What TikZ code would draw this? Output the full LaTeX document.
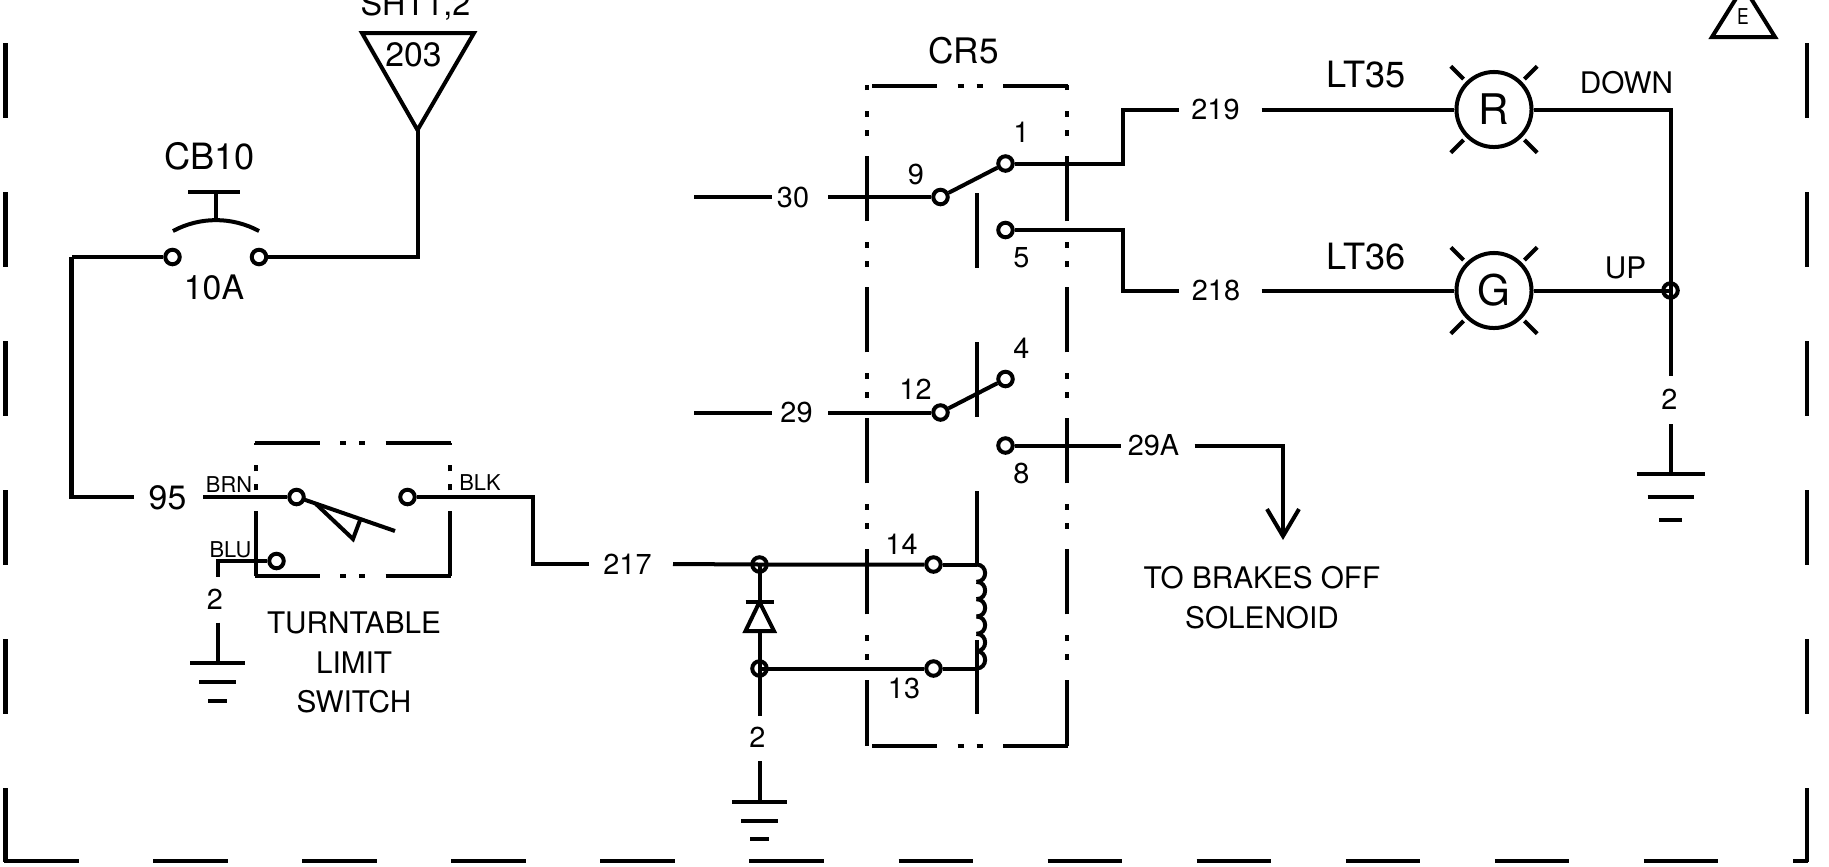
\documentclass[tikz,border=0pt]{standalone}
\usepackage{fontspec}
\setmainfont{TeX Gyre Heros}
\usetikzlibrary{arrows.meta}
\tikzset{
  wire/.style={line width=0.4mm},
  framedash/.style={wire, dash pattern=on 0.745cm off 0.745cm},
  linkdash/.style={wire, dash pattern=on 0.65cm off 0.205cm on 0.06cm off 0.13cm on 0.06cm off 0.205cm},
  term/.style={circle, draw, line width=0.4mm, minimum size=0.145cm, inner sep=0pt},
  lamp/.style={circle, draw, line width=0.4mm, minimum size=0.75cm, inner sep=0pt, font=\fontsize{12}{14}\selectfont},
  biglbl/.style={inner sep=0pt, font=\fontsize{10.3}{12}\selectfont},
  midlbl/.style={inner sep=0pt, font=\fontsize{9.6}{11}\selectfont},
  numlbl/.style={inner sep=0pt, font=\fontsize{8.2}{10}\selectfont},
  wordlbl/.style={inner sep=0pt, align=center, font=\fontsize{8.45}{11.2}\selectfont},
  tinylbl/.style={inner sep=0pt, font=\fontsize{6.2}{7}\selectfont},
}
\begin{document}
\begin{tikzpicture}[x=0.01cm, y=-0.01cm]
  \useasboundingbox (0,0) rectangle (1829,866);
  % outer frame
  \draw[framedash] (5.5,43) -- (5.5,861.5);
  \draw[framedash] (4,861) -- (1808,861);
  \draw[framedash] (1806.5,43) -- (1806.5,861.5);
  % sheet triangles
  \draw[wire] (362,33) -- (474,33) -- (417.5,130) -- cycle;
  \node[midlbl, font=\fontsize{9.2}{11}\selectfont] (sht) at (415.5,6) {SHT1,2};
  \node[midlbl] (n203) at (413.5,55) {203};
  \draw[wire] (1712,37) -- (1775,37) -- (1743.5,-13.5) -- cycle;
  \node[tinylbl, xscale=0.8] (rev) at (1743,17) {E};
  % breaker
  \coordinate (apex) at (417.5,130);
  \coordinate (cornerL) at (71.5,257);
  \node[term] (cbl) at (172.5,257) {};
  \node[term] (cbr) at (259,257) {};
  \node[biglbl] (cb10) at (209.5,156) {CB10};
  \node[midlbl] (amps) at (214,287) {10A};
  \draw[wire] (188,192) -- (240,192);
  \draw[wire] (215.5,192) -- (215.5,220);
  \draw[wire] (173,231) .. controls (200,216.5) and (232,216.5) .. (259,231);
  \draw[wire] (apex) |- (cbr);
  \draw[wire] (cbl) -- (cornerL);
  % limit switch
  \node[term] (swa) at (296.5,497) {};
  \node[term] (swb) at (407.5,497) {};
  \node[term] (swc) at (276.5,561) {};
  \coordinate (w95l) at (134,497);
  \coordinate (w95r) at (203,497);
  \node[midlbl] (n95) at (167.5,498) {95};
  \draw[wire] (cornerL) |- (w95l);
  \draw[wire] (w95r) -- (swa);
  \draw[wire] (304,499.5) -- (395,531);
  \draw[wire] (316,504) -- (353,539) -- (360.5,519);
  \draw[linkdash] (255.5,576) -- (255.5,443);
  \draw[linkdash] (449.5,576) -- (449.5,443);
  \draw[linkdash] (254.5,443) -- (451,443);
  \draw[linkdash] (254.5,576) -- (451,576);
  \node[tinylbl] (brn) at (229,485) {BRN};
  \node[tinylbl] (blu) at (230.5,550) {BLU};
  \node[tinylbl] (blk) at (480,483) {BLK};
  \node[wordlbl] (limit) at (354,662.5) {TURNTABLE\\LIMIT\\SWITCH};
  % ground of limit switch
  \coordinate (g1a) at (217.5,576.5);
  \coordinate (g1b) at (217.5,622.5);
  \coordinate (g1c) at (217.5,663);
  \node[numlbl] (n2a) at (215,599) {2};
  \draw[wire] (swc) -| (g1a);
  \draw[wire] (g1b) -- (g1c);
  \draw[wire] (g1c) +(-27.5,0) -- +(27.5,0) +(-18.5,19) -- +(18.5,19) +(-9.5,38) -- +(9.5,38);
  % wire 217
  \coordinate (w217l) at (589,564);
  \coordinate (w217r) at (673,564);
  \node[numlbl] (n217) at (627.5,564) {217};
  \draw[wire] (swb) -- (533,497) |- (w217l);
  % relay box
  \draw[linkdash] (866.5,745.5) -- (866.5,85);
  \draw[linkdash] (1067,745.5) -- (1067,85);
  \draw[linkdash] (872,85.5) -- (1068.5,85.5);
  \draw[linkdash] (872,745.5) -- (1068.5,745.5);
  \draw[framedash] (976.5,193) -- (976.5,714);
  \node[midlbl, font=\fontsize{10}{12}\selectfont] (cr5) at (963.5,51) {CR5};
  % upper contact
  \coordinate (w30a) at (694,197);
  \coordinate (w30b) at (772,197);
  \coordinate (w30c) at (828,197);
  \node[numlbl] (n30) at (793,197) {30};
  \node[term] (t9) at (940.5,197) {};
  \node[term] (t1) at (1005.5,163.5) {};
  \node[term] (t5) at (1005.5,230) {};
  \node[numlbl] (n9) at (916,174) {9};
  \node[numlbl] (n1) at (1021.5,132) {1};
  \node[numlbl] (n5) at (1021.5,258) {5};
  \draw[wire] (w30a) -- (w30b);
  \draw[wire] (w30c) -- (t9);
  \draw[wire] (t9) -- (t1);
  % lower contact
  \coordinate (w29a) at (694,412.5);
  \coordinate (w29b) at (772,412.5);
  \coordinate (w29c) at (828,412.5);
  \node[numlbl] (n29) at (796.5,412.5) {29};
  \node[term] (t12) at (940.5,412.5) {};
  \node[term] (t4) at (1005.5,379) {};
  \node[term] (t8) at (1005.5,445.5) {};
  \node[numlbl] (n12) at (915.5,389) {12};
  \node[numlbl] (n4) at (1021.5,348) {4};
  \node[numlbl] (n8) at (1021.5,473) {8};
  \draw[wire] (w29a) -- (w29b);
  \draw[wire] (w29c) -- (t12);
  \draw[wire] (t12) -- (t4);
  % output to brakes
  \coordinate (w29r) at (1120.5,445.5);
  \coordinate (w29s) at (1194.5,445.5);
  \coordinate (brake) at (1283,540);
  \node[numlbl] (n29a) at (1153.5,445.5) {29A};
  \node[wordlbl] (brakes) at (1262,597.5) {TO BRAKES OFF\\SOLENOID};
  \draw[wire] (t8) -- (w29r);
  \draw[wire, -{Straight Barb[length=0.27cm, width=0.32cm]}] (w29s) -| (brake);
  % coil
  \node[term] (t14) at (933.5,564.5) {};
  \node[term] (t13) at (933.5,668.5) {};
  \coordinate (c14) at (976.5,564.5);
  \coordinate (c13) at (976.5,668.5);
  \node[numlbl] (n14) at (901.5,544.5) {14};
  \node[numlbl] (n13) at (904,688) {13};
  \draw[wire] (t14) -- (c14);
  \draw[wire] (t13) -- (c13);
  \foreach \k in {0,...,5}
    \draw[wire] (976.5,564.5+17.33*\k) .. controls (988,564.5+17.33*\k) and (988,581.83+17.33*\k) .. (976.5,581.83+17.33*\k);
  % diode and ground
  \node[term] (jtop) at (759.5,564.5) {};
  \node[term] (jbot) at (759.5,668.5) {};
  \coordinate (dk) at (759.5,602);
  \coordinate (da) at (759.5,631);
  \coordinate (w2a) at (759.5,716);
  \coordinate (w2b) at (759.5,761);
  \coordinate (g2) at (759.5,802);
  \node[numlbl] (n2b) at (757.5,737.5) {2};
  \draw[wire] (w217r) -- (jtop.center) -- (t14);
  \draw[wire] (jtop.center) -- (dk);
  \draw[wire] (745.5,602) -- (774,602);
  \draw[wire] (dk) -- (745.5,631) -- (774,631) -- cycle;
  \draw[wire] (da) -- (jbot.center) -- (w2a);
  \draw[wire] (jbot.center) -- (t13);
  \draw[wire] (w2b) -- (g2);
  \draw[wire] (g2) +(-27.5,0) -- +(27.5,0) +(-18.5,19) -- +(18.5,19) +(-9.5,37) -- +(9.5,37);
  % lamps
  \coordinate (w219a) at (1179,109.5);
  \coordinate (w219b) at (1261.5,109.5);
  \coordinate (w218a) at (1179,290.5);
  \coordinate (w218b) at (1261.5,290.5);
  \node[numlbl] (n219) at (1215.5,109.5) {219};
  \node[numlbl] (n218) at (1216,290.5) {218};
  \node[lamp] (ltr) at (1494,109.5) {R};
  \node[lamp] (ltg) at (1494,290.5) {G};
  \node[biglbl] (lt35) at (1366,75) {LT35};
  \node[biglbl] (lt36) at (1366,257) {LT36};
  \node[wordlbl] (down) at (1626.5,83) {DOWN};
  \node[wordlbl] (up) at (1625.5,268) {UP};
  \foreach \a in {45,135,225,315} {
    \draw[wire] (ltr) ++(\a:43) -- ++(\a:18);
    \draw[wire] (ltg) ++(\a:43) -- ++(\a:18);
  }
  \draw[wire] (t1) -| (1123,109.5) -- (w219a);
  \draw[wire] (t5) -| (1123,290.5) -- (w218a);
  \draw[wire] (w219b) -- (ltr);
  \draw[wire] (w218b) -- (ltg);
  % return to ground
  \node[term] (jret) at (1670.5,290.5) {};
  \coordinate (w2c) at (1670.5,376);
  \coordinate (w2d) at (1670.5,424);
  \coordinate (g3) at (1670.5,474);
  \node[numlbl] (n2c) at (1669.5,399) {2};
  \draw[wire] (ltr) -| (jret.center) -- (w2c);
  \draw[wire] (ltg) -- (jret.center);
  \draw[wire] (w2d) -- (g3);
  \draw[wire] (g3) +(-34,0) -- +(34,0) +(-23,23) -- +(23,23) +(-11.5,46) -- +(11.5,46);
\end{tikzpicture}
\end{document}
